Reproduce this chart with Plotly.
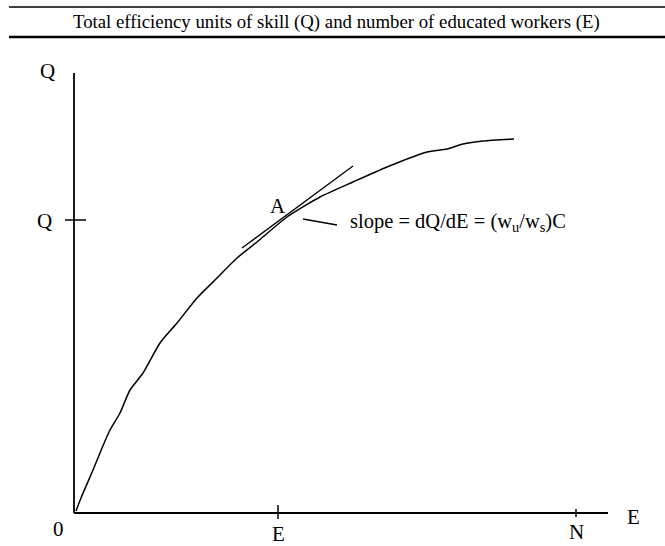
import plotly.graph_objects as go

# Curve Q(E): total efficiency units of skill vs number of educated workers
curve_E = [2, 7, 19, 28, 36, 46, 56, 69, 86, 103, 123, 143, 163, 183, 213, 246, 279, 313, 353, 373, 389, 409, 440]
curve_Q = [2, 15, 43, 65, 83, 100, 123, 140, 170, 190, 215, 235, 255, 271, 296, 316, 331, 346, 361, 364, 369, 372, 374]

# Tangent at point A
tangent_E = [168, 279]
tangent_Q = [265, 347]

# Axis extents and marked values
E_max, Q_max = 534, 440
E_star, N_val, Q_star = 204, 502, 293

FONT = "Liberation Serif"
title_text = "Total efficiency units of skill (Q) and number of educated workers (E)"

fig = go.Figure()
line = dict(color="black", width=1.5)

# axes
fig.add_trace(go.Scatter(x=[0, 0], y=[Q_max, 0], mode="lines", line=dict(color="black", width=1.8), hoverinfo="skip"))
fig.add_trace(go.Scatter(x=[0, E_max], y=[0, 0], mode="lines", line=dict(color="black", width=1.8), hoverinfo="skip"))
# ticks
fig.add_trace(go.Scatter(x=[-9, 12], y=[Q_star, Q_star], mode="lines", line=line, hoverinfo="skip"))
fig.add_trace(go.Scatter(x=[E_star, E_star], y=[-6, 8], mode="lines", line=line, hoverinfo="skip"))
fig.add_trace(go.Scatter(x=[N_val, N_val], y=[-4, 4], mode="lines", line=line, hoverinfo="skip"))
# curve
fig.add_trace(go.Scatter(x=curve_E, y=curve_Q, mode="lines", line=dict(color="black", width=1.5, shape="spline", smoothing=0.6), hoverinfo="skip"))
# tangent
fig.add_trace(go.Scatter(x=tangent_E, y=tangent_Q, mode="lines", line=dict(color="black", width=1.3), hoverinfo="skip"))
# pointer
fig.add_trace(go.Scatter(x=[229, 263], y=[294, 288], mode="lines", line=dict(color="black", width=1.3), hoverinfo="skip"))

def txt(x, y, t, xanchor="center", size=21):
    fig.add_annotation(x=x, y=y, xref="x", yref="y", text=t, showarrow=False,
                       xanchor=xanchor, yanchor="middle", font=dict(family=FONT, size=size, color="black"))

txt(-27, 442, "Q")
txt(-30, 292, "Q")
txt(-16, -16, "0")
txt(E_star, -21, "E")
txt(N_val, -19, "N")
txt(559, -4, "E")
txt(204, 307, "A")
txt(274, 291, "slope = dQ/dE = (w<sub>u</sub>/w<sub>s</sub>)C", xanchor="left", size=20.5)

# header rules and title
fig.add_shape(type="line", xref="paper", yref="paper", x0=9/665, x1=1, y0=1-7/546, y1=1-7/546,
              line=dict(color="black", width=1.5))
fig.add_shape(type="line", xref="paper", yref="paper", x0=9/665, x1=1, y0=1-37/546, y1=1-37/546,
              line=dict(color="black", width=2.5))
fig.add_annotation(x=336/665, y=1-22/546, xref="paper", yref="paper", text=title_text, showarrow=False,
                   xanchor="center", yanchor="middle", font=dict(family=FONT, size=18.8, color="black"))

fig.update_layout(
    width=665, height=546, margin=dict(l=0, r=0, t=0, b=0),
    plot_bgcolor="white", paper_bgcolor="white", showlegend=False,
    xaxis=dict(range=[-74, 591], visible=False, fixedrange=True),
    yaxis=dict(range=[-33, 513], visible=False, fixedrange=True),
)
fig.write_html("out.html", config={"displayModeBar": False},
               post_script="document.body.style.margin='0';document.body.style.overflow='hidden';")
